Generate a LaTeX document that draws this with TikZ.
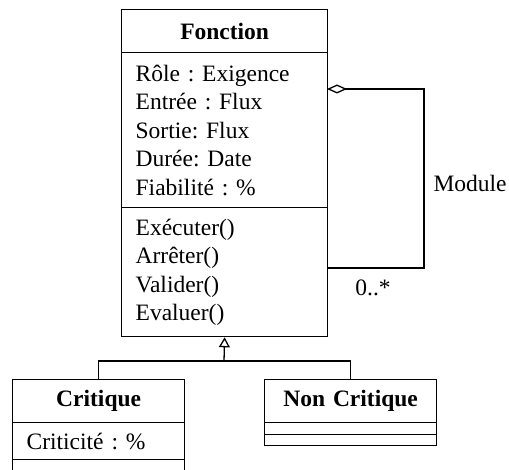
\documentclass[tikz,border=0pt]{standalone}
\usepackage{fontspec}
\setmainfont{Liberation Serif}
\usetikzlibrary{positioning,arrows.meta}
\frenchspacing

\tikzset{
  umlfont/.style={font=\fontsize{23.5}{28.5}\selectfont},
  compart/.style={draw, line width=1.3pt, umlfont, anchor=north west,
    inner xsep=14pt, inner ysep=0pt, align=left, text width=#1},
  classname/.style={compart=#1, align=center,
    font=\fontsize{23.5}{28.5}\selectfont\bfseries},
  umlline/.style={line width=1.3pt}
}

\begin{document}
\begin{tikzpicture}[x=1pt, y=-1pt]
% Page frame
\clip (0,0) rectangle (509,470);

% Class Fonction
\node[classname=178pt, minimum height=43pt] (fhead) at (121,9) {Fonction};
\node[compart=178pt, minimum height=155pt] (fattr) at (121,52) {
    R\^ole : Exigence\\
    Entr\'ee : Flux\\
    Sortie: Flux\\
    Dur\'ee: Date\\
    Fiabilit\'e : \%};
\node[compart=178pt, minimum height=129pt] (fops) at (121,207) {
    Ex\'ecuter()\\
    Arr\^eter()\\
    Valider()\\
    Evaluer()};

% Class Critique
\node[classname=144pt, minimum height=43pt] (chead) at (12,379) {Critique};
\node[compart=144pt, minimum height=37pt] (cattr) at (12,422) {Criticit\'e : \%};
\node[compart=144pt, minimum height=40pt] (cops) at (12,459) {};

% Class Non Critique
\node[classname=144pt, minimum height=43pt] (nhead) at (264,379) {Non Critique};
\node[compart=144pt, minimum height=12pt] (nattr) at (264,422) {};
\node[compart=144pt, minimum height=11pt] (nops) at (264,434) {};

% Aggregation Module (reflexive)
\coordinate (aggin) at (327,89);
\coordinate (modright) at (424,180);
\coordinate (aggout) at (327,268);
\draw[umlline, {Diamond[open, length=20pt, width=9pt]}-] (aggin) -| (modright) |- (aggout);
\node[umlfont, anchor=west] (module) at (430,183) {Module};
\node[umlfont] (mult) at (373,288) {0..*};

% Generalization
\coordinate (gen) at (224,361);
\draw[umlline, -{Triangle[open, length=10pt, width=11pt]}] (gen) -- (fops.south);
\draw[umlline] (chead.north) |- (gen) -| (nhead.north);

\end{tikzpicture}
\end{document}
